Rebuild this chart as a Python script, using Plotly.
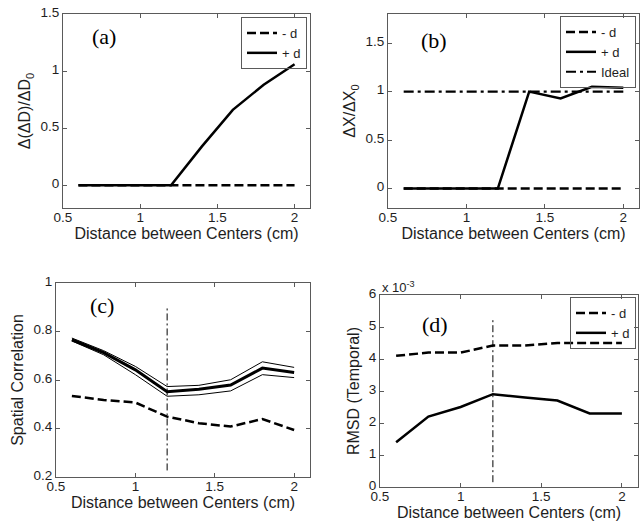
import plotly.graph_objects as go

# ---------------- data ----------------
dist = [0.6, 0.8, 1.0, 1.2, 1.4, 1.6, 1.8, 2.0]

# (a) Delta(Delta D)/Delta D0
a_minus_d = [0, 0, 0, 0, 0, 0, 0, 0]
a_plus_d = [0, 0, 0, 0, 0.34, 0.66, 0.88, 1.06]

# (b) Delta X / Delta X0
b_minus_d = [0, 0, 0, 0, 0, 0, 0, 0]
b_plus_d = [0, 0, 0, 0, 1.00, 0.93, 1.05, 1.04]
b_ideal = [1, 1, 1, 1, 1, 1, 1, 1]

# (c) Spatial correlation
c_plus_d = [0.766, 0.713, 0.642, 0.552, 0.562, 0.579, 0.649, 0.631]
c_plus_upper = [0.773, 0.721, 0.656, 0.573, 0.578, 0.601, 0.675, 0.652]
c_plus_lower = [0.761, 0.704, 0.622, 0.533, 0.539, 0.555, 0.622, 0.610]
c_minus_d = [0.534, 0.518, 0.507, 0.449, 0.422, 0.408, 0.439, 0.394]
c_vline_x = [1.2, 1.2]
c_vline_y = [0.227, 0.896]

# (d) RMSD (Temporal), in units of 1e-3
d_minus_d = [4.1, 4.2, 4.2, 4.42, 4.42, 4.5, 4.5, 4.5]
d_plus_d = [1.4, 2.2, 2.5, 2.9, 2.8, 2.7, 2.3, 2.3]
d_vline_x = [1.2, 1.2]
d_vline_y = [0.15, 5.22]

x_ticks = [0.5, 1, 1.5, 2]
labels = ["(a)", "(b)", "(c)", "(d)"]

# ---------------- styles ----------------
DASH = "9px,4px"
IDEAL = "10px,4px,3px,4px"
VDASH = "7px,3px,2px,3px"
FONT = "Liberation Sans, Arial, sans-serif"
AX = "#5a5a5a"
TXT = "#1e1e1e"

fig = go.Figure()

def line(x, y, xa, ya, width, dash=None, name=None, legend=None, show=False):
    fig.add_trace(go.Scatter(
        x=x, y=y, xaxis=xa, yaxis=ya, mode="lines", name=name,
        line=dict(color="black", width=width, dash=dash),
        showlegend=show, legend=legend, hoverinfo="skip"))

# (a)
line(dist, a_minus_d, "x", "y", 2.5, DASH, "- d", "legend", True)
line(dist, a_plus_d, "x", "y", 2.5, None, "+ d", "legend", True)
# (b)
line(dist, b_minus_d, "x2", "y2", 2.5, DASH, "- d", "legend2", True)
line(dist, b_plus_d, "x2", "y2", 2.5, None, "+ d", "legend2", True)
line(dist, b_ideal, "x2", "y2", 2.2, IDEAL, "Ideal", "legend2", True)
# (c)
line(dist, c_plus_upper, "x3", "y3", 1)
line(dist, c_plus_lower, "x3", "y3", 1)
line(dist, c_plus_d, "x3", "y3", 3)
line(dist, c_minus_d, "x3", "y3", 2.5, DASH)
line(c_vline_x, c_vline_y, "x3", "y3", 1, VDASH)
# (d)
line(dist, d_minus_d, "x4", "y4", 2.5, DASH, "- d", "legend3", True)
line(dist, d_plus_d, "x4", "y4", 2.5, None, "+ d", "legend3", True)
line(d_vline_x, d_vline_y, "x4", "y4", 1, VDASH)

W, H = 644, 521
def dom_x(a, b):
    return [a / W, b / W]
def dom_y(top, bot):
    return [1 - bot / H, 1 - top / H]

common = dict(showline=True, linecolor=AX, linewidth=1, mirror="ticks",
              ticks="inside", ticklen=4, tickcolor=AX, showgrid=False,
              zeroline=False, automargin=False,
              tickfont=dict(family=FONT, size=13.5, color=TXT),
              title_font=dict(family=FONT, size=16, color=TXT))
xcommon = dict(common, ticklabelstandoff=-3)
ycommon = dict(common, ticklabelshift=-2)

xtitle = "Distance between Centers (cm)"
layout = dict(
    xaxis=dict(domain=dom_x(63, 310), range=[0.5, 2.1], tickvals=x_ticks, anchor="y",
               title=dict(text=xtitle, standoff=0), **xcommon),
    yaxis=dict(domain=dom_y(14, 208), range=[-0.2, 1.5], dtick=0.5, tick0=0, anchor="x",
               title=dict(text="Δ(ΔD)/ΔD<sub>0</sub>", standoff=5), **ycommon),
    xaxis2=dict(domain=dom_x(388, 639), range=[0.5, 2.1], tickvals=x_ticks, anchor="y2",
                title=dict(text=xtitle, standoff=0), **xcommon),
    yaxis2=dict(domain=dom_y(14, 208), range=[-0.2, 1.8], dtick=0.5, tick0=0, anchor="x2",
                title=dict(text="ΔX/ΔX<sub>0</sub>", standoff=5), **ycommon),
    xaxis3=dict(domain=dom_x(56, 310), range=[0.5, 2.1], tickvals=x_ticks, anchor="y3",
                title=dict(text=xtitle, standoff=0), **xcommon),
    yaxis3=dict(domain=dom_y(283, 477), range=[0.2, 1.0], dtick=0.2, tick0=0.2, anchor="x3",
                title=dict(text="Spatial Correlation", standoff=5), **ycommon),
    xaxis4=dict(domain=dom_x(380, 638), range=[0.5, 2.1], tickvals=x_ticks, anchor="y4",
                title=dict(text=xtitle, standoff=0), **xcommon),
    yaxis4=dict(domain=dom_y(295, 487), range=[0, 6], dtick=1, tick0=0, anchor="x4",
                title=dict(text="RMSD (Temporal)", standoff=5), **ycommon),
)

leg = dict(xanchor="right", yanchor="top", bgcolor="rgba(255,255,255,0)", bordercolor=AX,
           borderwidth=1, font=dict(family=FONT, size=13, color=TXT),
           tracegroupgap=0, itemwidth=30)
layout["legend"] = dict(x=307 / W, y=1 - 17 / H, **leg)
layout["legend2"] = dict(x=636 / W, y=1 - 16 / H, **leg)
layout["legend3"] = dict(x=636 / W, y=1 - 297 / H, **leg)

fig.update_layout(width=W, height=H, margin=dict(l=0, r=0, t=0, b=0),
                  plot_bgcolor="white", paper_bgcolor="white", **layout)

# panel labels
label_pos = [("x", "y", 0.765, 1.30), ("x2", "y2", 0.796, 1.53),
             ("x3", "y3", 0.79, 0.909), ("x4", "y4", 0.838, 5.09)]
for lab, (xr, yr, xv, yv) in zip(labels, label_pos):
    fig.add_annotation(text=lab, x=xv, y=yv, xref=xr, yref=yr, showarrow=False,
                       font=dict(family="Liberation Serif, Times New Roman, serif",
                                 size=22, color="black"))

# exponent label for (d)
fig.add_annotation(text="x 10<sup>-3</sup>", x=0, y=1, xref="x4 domain", yref="y4 domain",
                   xanchor="left", yanchor="bottom", showarrow=False, yshift=-2,
                   font=dict(family=FONT, size=13, color=TXT))

fig.write_html("out.html")
